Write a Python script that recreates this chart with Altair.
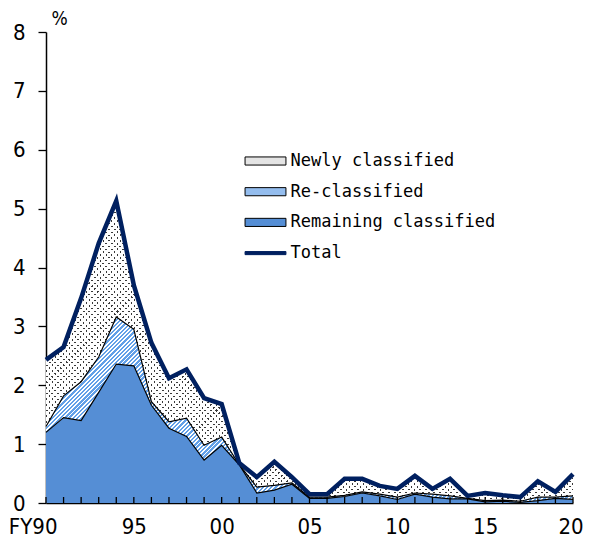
import math
import altair as alt
import pandas as pd

# ---------------- data ----------------
years = list(range(1990, 2021))
remaining = [1.20, 1.45, 1.40, 1.88, 2.36, 2.33, 1.66, 1.27, 1.13, 0.73, 0.98,
             0.65, 0.17, 0.22, 0.32, 0.08, 0.08, 0.11, 0.17, 0.12, 0.06,
             0.15, 0.10, 0.07, 0.07, 0.02, 0.03, 0.01, 0.04, 0.08, 0.06]
reclassified = [0.10, 0.37, 0.66, 0.60, 0.80, 0.62, 0.06, 0.11, 0.31, 0.25, 0.14,
                0.00, 0.10, 0.08, 0.02, 0.02, 0.02, 0.02, 0.02, 0.03, 0.04,
                0.02, 0.05, 0.05, 0.01, 0.02, 0.02, 0.02, 0.06, 0.02, 0.06]
newly = [1.13, 0.83, 1.42, 1.93, 1.97, 0.75, 1.00, 0.74, 0.83, 0.80, 0.56,
         0.03, 0.17, 0.40, 0.10, 0.05, 0.05, 0.28, 0.22, 0.14, 0.14,
         0.29, 0.09, 0.29, 0.04, 0.13, 0.08, 0.07, 0.27, 0.09, 0.37]
total = [2.43, 2.65, 3.48, 4.41, 5.13, 3.70, 2.72, 2.12, 2.27, 1.78, 1.68,
         0.68, 0.44, 0.70, 0.44, 0.15, 0.15, 0.41, 0.41, 0.29, 0.24,
         0.46, 0.24, 0.41, 0.12, 0.17, 0.13, 0.10, 0.37, 0.19, 0.49]
series_names = ["Newly classified", "Re-classified", "Remaining classified", "Total"]
x_tick_years = [1990, 1995, 2000, 2005, 2010, 2015, 2020]

df = pd.DataFrame({"year": years, "R": remaining, "Re": reclassified, "N": newly, "T": total})
df["C"] = df["R"] + df["Re"]
df["TOP"] = df["C"] + df["N"]
df["ZERO"] = 0.0

# ---------------- styling ----------------
W, H = 527, 471
YMAX = 8
BLUE = "#558ED5"
STRIPE_BLUE = "#62A0E8"
NAVY = "#002060"
DOT = "#3a3a3a"
NUM_FONT = "Liberation Sans Narrow, DejaVu Sans Condensed, sans-serif"
LEG_FONT = "DejaVu Sans Mono, Liberation Mono, monospace"
ppu = H / YMAX


def stripes(w, h, period, frac, on, off, kind):
    k = (w + h) / (w * w + h * h)
    n = (w + h) / math.sqrt(2) / period
    stops = []
    i = 0
    while i / n < 1:
        a = round(i / n, 5)
        b = round(min((i + frac) / n, 1), 5)
        c = round(min((i + 1) / n, 1), 5)
        stops += [(a, on), (b, on), (b, off), (c, off)]
        i += 1
    gs = [{"offset": o, "color": col} for o, col in stops]
    if kind == "/":
        return {"gradient": "linear", "stops": gs, "x1": 0, "y1": 0, "x2": k * w, "y2": k * h}
    return {"gradient": "linear", "stops": gs, "x1": 0, "y1": 1, "x2": k * w, "y2": 1 - k * h}


h_re = (df["C"].max() - df["R"].min()) * ppu
h_new = (df["TOP"].max() - df["C"].min()) * ppu
grad_re = stripes(W, h_re, 3.0, 0.55, STRIPE_BLUE, "#ffffff", "/")
grad_dot_a = stripes(W, h_new, 4.0, 0.36, DOT, "#ffffff", "/")
grad_dot_b = stripes(W, h_new, 4.0, 0.36, "rgba(255,255,255,0)", "#ffffff", "\\")

x_axis = alt.Axis(values=x_tick_years, title=None, grid=False, ticks=False, tickSize=0,
                  labelExpr="datum.value == 1990 ? 'FY90' : substring(toString(datum.value), 2, 4)",
                  labelAlign={"condition": {"test": "datum.value == 1990", "value": "right"}, "value": "center"},
                  labelOffset={"condition": [{"test": "datum.value == 1990", "value": 11},
                                             {"test": "datum.value == 2020", "value": -2.5}], "value": 0},
                  labelFlush=False, labelOverlap=False, labelPadding=13,
                  labelFont=NUM_FONT, labelFontSize=22, labelColor="black",
                  domainColor="black", domainWidth=1.5)
y_axis = alt.Axis(values=list(range(0, 9)), grid=False, tickSize=8, tickColor="black", tickWidth=1.3,
                  labelFont=NUM_FONT, labelFontSize=22, labelColor="black", labelPadding=13,
                  domainColor="black", domainWidth=1.5,
                  title="%", titleAngle=0, titleAlign="left", titleBaseline="top",
                  titleX=5, titleY=-23, titleFont=NUM_FONT, titleFontSize=19,
                  titleFontWeight="normal", titleColor="black")
x_scale = alt.Scale(domain=[1990, 2020], nice=False, zero=False)
y_scale = alt.Scale(domain=[0, YMAX], nice=False)


def X():
    return alt.X("year:Q", scale=x_scale, axis=x_axis)


def Y(field):
    return alt.Y(f"{field}:Q", scale=y_scale, axis=y_axis)


base = alt.Chart(df)

area_rem = base.mark_area(fill=BLUE, opacity=1).encode(x=X(), y=Y("R"), y2="ZERO:Q")
area_re = base.mark_area(fill=grad_re, opacity=1).encode(x=X(), y=Y("C"), y2="R:Q")
area_new_a = base.mark_area(fill=grad_dot_a, opacity=1).encode(x=X(), y=Y("TOP"), y2="C:Q")
area_new_b = base.mark_area(fill=grad_dot_b, opacity=1).encode(x=X(), y=Y("TOP"), y2="C:Q")
line_rem = base.mark_line(color="black", strokeWidth=1.2).encode(x=X(), y=Y("R"))
line_c = base.mark_line(color="black", strokeWidth=1.2).encode(x=X(), y=Y("C"))
line_total = base.mark_line(color=NAVY, strokeWidth=4.5, strokeJoin="miter").encode(x=X(), y=Y("T"))
ticks = base.mark_rule(color="black", strokeWidth=1.3).encode(
    x=X(), y=alt.value(H - 6), y2=alt.value(H))

# legend
rect_path = "M-1.46,-0.29H1.46V0.29H-1.46Z"
line_path = "M-1.46,-0.11H1.46V0.11H-1.46Z"
leg_df = pd.DataFrame({"series": series_names})
legend = alt.Legend(title=None, orient="none", legendX=205, legendY=114.5,
                    labelFont=LEG_FONT, labelFontSize=17, labelColor="black",
                    symbolSize=784, symbolStrokeWidth=1, symbolOpacity=1,
                    rowPadding=7.7, padding=0, labelOffset=10.5, labelLimit=400)
legend_layer = alt.Chart(leg_df).mark_point(filled=True, opacity=0).encode(
    x=alt.value(0), y=alt.value(0),
    fill=alt.Fill("series:N", scale=alt.Scale(domain=series_names,
                                               range=["#e4e4e4", "#94BDEE", BLUE, NAVY]), legend=legend),
    stroke=alt.Stroke("series:N", scale=alt.Scale(domain=series_names,
                                                   range=["black", "black", "black", NAVY]), legend=legend),
    shape=alt.Shape("series:N", scale=alt.Scale(domain=series_names,
                                                 range=[rect_path, rect_path, rect_path, line_path]), legend=legend),
)

chart = alt.layer(
    area_rem, area_re, area_new_a, area_new_b, line_rem, line_c, ticks, line_total, legend_layer
).properties(
    width=W, height=H,
    autosize=alt.AutoSizeParams(type="none"),
    padding={"left": 38, "top": 24, "right": 10, "bottom": 35},
).configure_view(stroke=None)

chart.save("out.html", embed_options={"renderer": "svg", "actions": False})
